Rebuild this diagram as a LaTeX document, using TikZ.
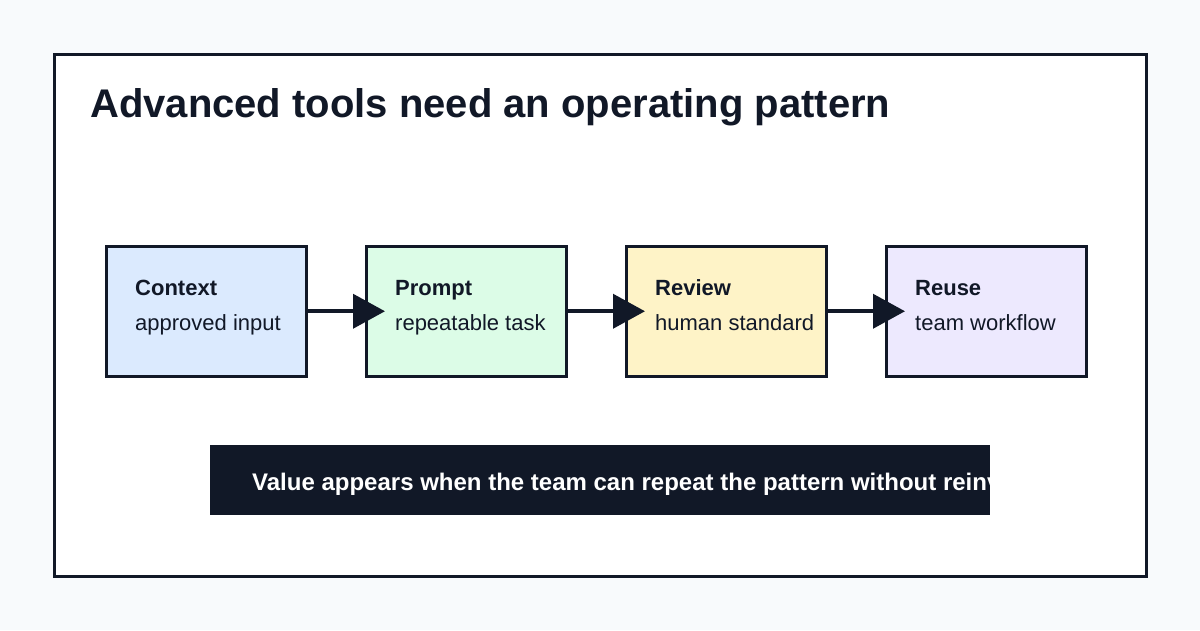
\documentclass[tikz,border=0pt]{standalone}
\usepackage{fontspec}
\setmainfont{Liberation Sans}
\usetikzlibrary{arrows.meta}
\definecolor{ink}{HTML}{111827}
\definecolor{bg}{HTML}{F8FAFC}
\definecolor{cblue}{HTML}{DBEAFE}
\definecolor{cgreen}{HTML}{DCFCE7}
\definecolor{cyellow}{HTML}{FEF3C7}
\definecolor{cpurple}{HTML}{EDE9FE}
\tikzset{
  stagebox/.style={draw=ink, line width=2.5pt, minimum width=200pt, minimum height=130pt, inner sep=0pt, anchor=north west},
  headtxt/.style={anchor=base west, inner sep=0pt, text=ink, font=\fontsize{22}{26}\selectfont\bfseries},
  subtxt/.style={anchor=base west, inner sep=0pt, text=ink, font=\fontsize{22}{26}\selectfont},
  flow/.style={draw=ink, line width=4pt, -{Triangle[length=32pt,width=34pt]}},
}
\begin{document}
\begin{tikzpicture}[x=1pt,y=-1pt]
\fill[bg] (0,0) rectangle (1200,630);
\useasboundingbox (0,0) rectangle (1200,630);
\draw[ink, fill=white, line width=3pt] (54,54) rectangle (1146,576);
\node[anchor=base west, inner sep=0pt, text=ink, font=\fontsize{40}{46}\selectfont\bfseries] (title) at (90,117) {Advanced tools need an operating pattern};

\node[stagebox, fill=cblue] (c) at (105,245) {};
\node[stagebox, fill=cgreen] (p) at (365,245) {};
\node[stagebox, fill=cyellow] (r) at (625,245) {};
\node[stagebox, fill=cpurple] (u) at (885,245) {};

\node[headtxt] (ct) at (135,295) {Context};
\node[subtxt] (cs) at (135,330) {approved input};
\node[headtxt] (pt) at (395,295) {Prompt};
\node[subtxt] (ps) at (395,330) {repeatable task};
\node[headtxt] (rt) at (655,295) {Review};
\node[subtxt] (rs) at (655,330) {human standard};
\node[headtxt] (ut) at (915,295) {Reuse};
\node[subtxt] (us) at (915,330) {team workflow};

\draw[flow] (c.east) -- ([xshift=20pt]p.west);
\draw[flow] (p.east) -- ([xshift=20pt]r.west);
\draw[flow] (r.east) -- ([xshift=20pt]u.west);

\node[fill=ink, minimum width=780pt, minimum height=70pt, inner sep=0pt, anchor=north west] (banner) at (210,445) {};
\begin{scope}
\clip (210,445) rectangle (990,515);
\node[anchor=base west, inner sep=0pt, text=white, font=\fontsize{24}{28}\selectfont\bfseries] (bt) at (252,490) {Value appears when the team can repeat the pattern without reinventing it};
\end{scope}
\end{tikzpicture}
\end{document}
